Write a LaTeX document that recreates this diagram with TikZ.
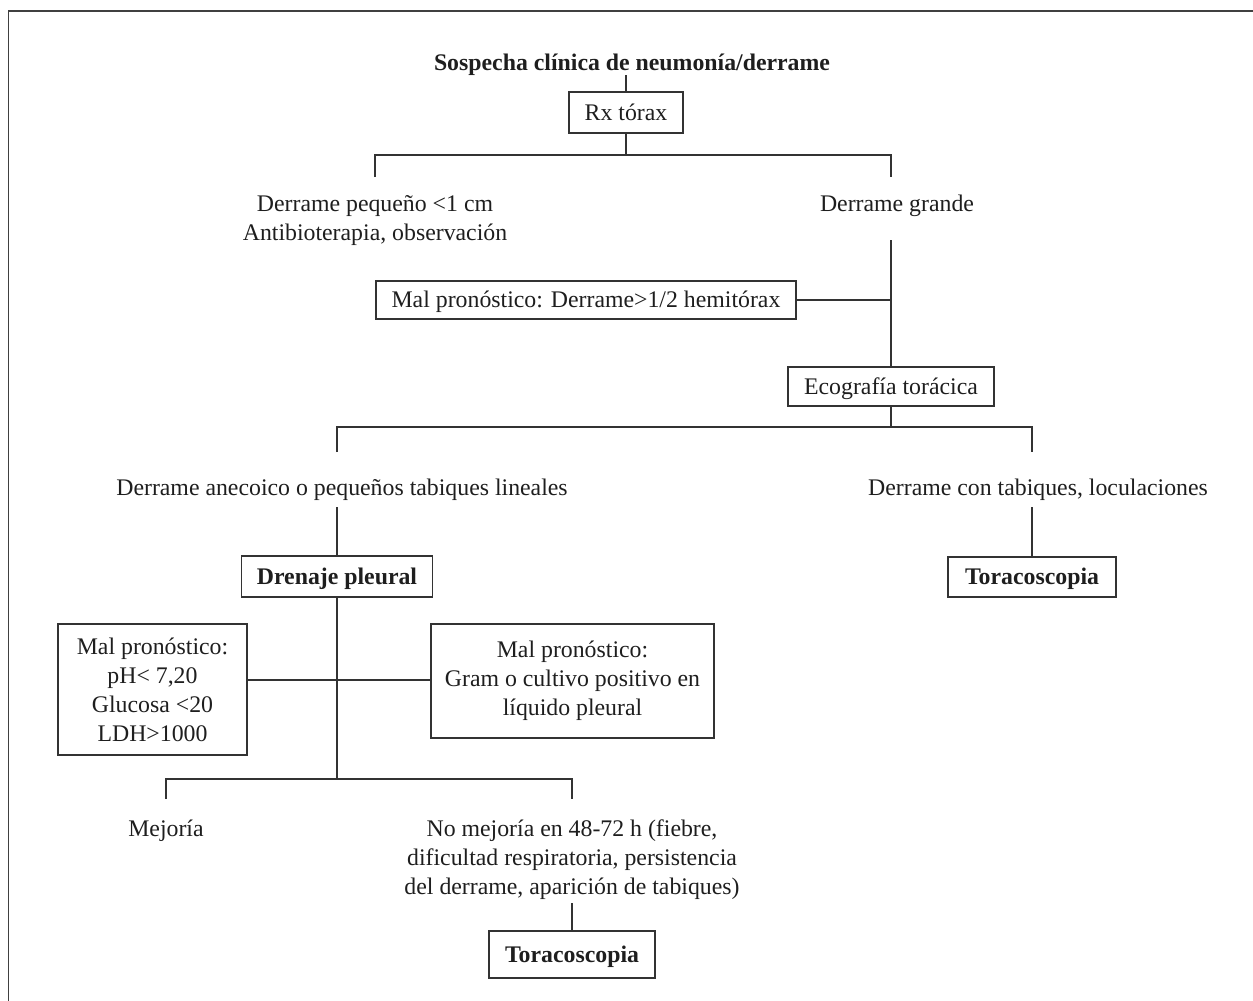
\documentclass[tikz,border=0pt]{standalone}
\usepackage{fontspec}
\setmainfont{Liberation Serif}
\newcommand\dfont{\fontsize{23.8}{29}\selectfont}
\definecolor{ink}{HTML}{1E1E1E}
\definecolor{rulec}{HTML}{333333}
\begin{document}
\begin{tikzpicture}[x=1pt,y=-1pt,
  every node/.style={text=ink, font=\dfont, inner sep=0pt, align=center},
  conn/.style={draw=rulec, line width=1.2pt},
  box/.style={draw=rulec, line width=1.2pt, text height=20pt, text depth=5pt},
  mbox/.style={draw=rulec, line width=1.2pt},
  lbl/.style={anchor=base},
  framel/.style={draw=black!75, line width=1.5pt}
]
\useasboundingbox (0,0) rectangle (1253,1001);
\draw[framel] (1253,11) -- (8.5,11) -- (8.5,1001);

% nodes (multi-line labels: base = baseline of last line)
\node[lbl, font=\dfont\bfseries] (title) at (632,70) {Sospecha clínica de neumonía/derrame};
\node[box, minimum width=114pt, minimum height=41pt] (rx) at (626,112.5) {Rx tórax};
\node[lbl] (dp) at (375,240) {Derrame pequeño <1 cm\\Antibioterapia, observación};
\node[lbl] (dg) at (897,211) {Derrame grande};
\node[box, minimum width=420pt, minimum height=38pt] (mp1) at (586,300) {Mal pronóstico: Derrame>1/2 hemitórax};
\node[box, minimum width=206pt, minimum height=39pt] (eco) at (891,386.5) {Ecografía torácica};
\node[lbl] (an) at (342,495) {Derrame anecoico o pequeños tabiques lineales};
\node[lbl] (ct) at (1038,495) {Derrame con tabiques, loculaciones};
\node[box, font=\dfont\bfseries, minimum width=191pt, minimum height=41pt] (dren) at (337,576.5) {Drenaje pleural};
\node[box, font=\dfont\bfseries, minimum width=168pt, minimum height=40pt] (tor1) at (1032,577) {Toracoscopia};
\node[mbox, minimum width=189pt, minimum height=131pt] (mp2) at (152.5,689.5) {Mal pronóstico:\\pH< 7,20\\Glucosa <20\\LDH>1000};
\node[mbox, minimum width=283pt, minimum height=114pt] (mp3) at (572.5,681) {Mal pronóstico:\\Gram o cultivo positivo en\\líquido pleural};
\node[lbl] (mj) at (166,836) {Mejoría};
\node[lbl] (nm) at (572,894) {No mejoría en 48-72 h (fiebre,\\dificultad respiratoria, persistencia\\del derrame, aparición de tabiques)};
\node[box, font=\dfont\bfseries, minimum width=166pt, minimum height=47pt] (tor2) at (572,954.5) {Toracoscopia};

% junctions and free ends
\coordinate (j1) at (626,155);
\coordinate (dpT) at (375,177);
\coordinate (dgT) at (891,177);
\coordinate (dgB) at (891,240);
\coordinate (j2) at (891,427);
\coordinate (anT) at (337,452);
\coordinate (ctT) at (1032,452);
\coordinate (anB) at (337,507);
\coordinate (ctB) at (1032,507);
\coordinate (j4) at (337,680);
\coordinate (j3) at (337,779);
\coordinate (mjT) at (166,799);
\coordinate (nmT) at (572,799);
\coordinate (nmB) at (572,903);

% connectors
\draw[conn] (rx.north |- title.south) -- (rx.north);
\draw[conn] (rx.south) -- (j1);
\draw[conn] (dpT) |- (j1) -| (dgT);
\draw[conn] (dgB) -- (eco.north);
\draw[conn] (mp1.east) -- (mp1.east -| dgB);
\draw[conn] (eco.south) -- (j2);
\draw[conn] (anT) |- (j2) -| (ctT);
\draw[conn] (anB) -- (dren.north);
\draw[conn] (ctB) -- (tor1.north);
\draw[conn] (dren.south) -- (j3);
\draw[conn] (mp2.east |- j4) -- (mp3.west |- j4);
\draw[conn] (mjT) |- (j3) -| (nmT);
\draw[conn] (nmB) -- (tor2.north);
\end{tikzpicture}
\end{document}
